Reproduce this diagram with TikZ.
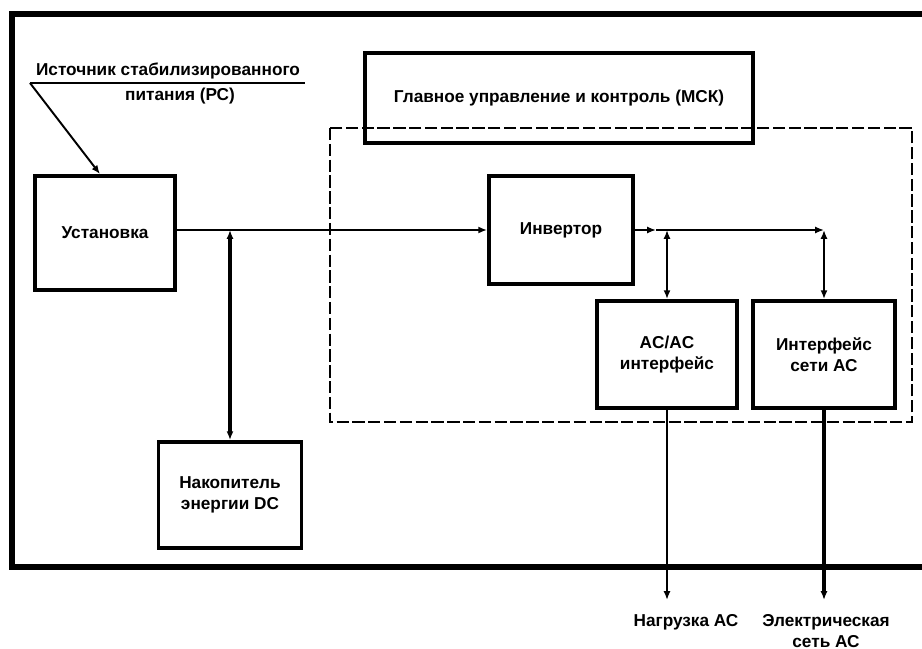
\documentclass[tikz,border=0pt]{standalone}
\usepackage{fontspec}
\setmainfont{Liberation Sans}
\usetikzlibrary{positioning,arrows.meta,calc}

\begin{document}
\begin{tikzpicture}[x=0.2mm,y=-0.2mm,>={Latex[length=5pt,width=4pt]},
  blk/.style={draw,line width=2.2pt,align=center,inner sep=0pt,
    font=\bfseries\fontsize{9.8}{12}\selectfont},
  lbl/.style={align=center,inner sep=1pt,font=\bfseries\fontsize{9.8}{12}\selectfont},
  conn/.style={line width=1.1pt}]
  \useasboundingbox (0,0) rectangle (922,649);
  % outer frame, open past the right edge
  \draw[line width=3pt] (930,14) -- (12,14) -- (12,567) -- (930,567);
  % MCK zone
  \draw[line width=1.2pt,dash pattern=on 7pt off 2pt] (330,128) rectangle (912,422);
  \node[blk,minimum width=77.6mm,minimum height=18mm] (mck) at (559,98) {Главное управление и контроль (МСК)};
  % blocks
  \node[blk,minimum width=28mm,minimum height=22.8mm] (inst) at (105,233) {Установка};
  \node[blk,minimum width=28.8mm,minimum height=21.6mm] (inv) at (561,230) {Инвертор};
  \node[blk,minimum width=28mm,minimum height=21.4mm] (acac) at (667,354.5) {AC/AC\\интерфейс};
  \node[blk,minimum width=28.4mm,minimum height=21.4mm] (grid) at (824,354.5) {Интерфейс\\сети АС};
  \node[blk,minimum width=28.6mm,minimum height=21.2mm] (store) at (230,495) {Накопитель\\энергии DC};
  % source label
  \node[lbl,anchor=south] (pctop) at (168,81) {Источник стабилизированного};
  \node[lbl,anchor=north] (pcbot) at (180,86) {питания (РС)};
  \coordinate (pcl) at (30,83);
  \coordinate (pcr) at (305,83);
  \draw[conn] (pcl) -- (pcr);
  \draw[conn,->] (pcl) -- ($(inst.north)+(-5,0)$);
  % DC bus
  \coordinate (jd) at (inst.east |- inv.west);
  \coordinate (js) at (store.north |- inv.west);
  \draw[conn,->] (jd) -- (inv.west);
  \draw[line width=1.8pt,<->] (js) -- (store.north);
  % AC side
  \coordinate (ja) at (656,230);
  \coordinate (j1) at (acac.north |- inv.east);
  \coordinate (j2) at (grid.north |- inv.east);
  \draw[conn,->] (inv.east) -- (ja);
  \draw[conn] (ja) -- (j1);
  \draw[conn,->] (j1) -- (j2);
  \draw[conn,<->] (j1) -- (acac.north);
  \draw[line width=1.6pt,<->] (j2) -- (grid.north);
  % outputs
  \coordinate (load) at (acac.south |- 0,600);
  \coordinate (net) at (grid.south |- 0,600);
  \draw[line width=1.4pt,->] (acac.south) -- (load);
  \draw[line width=2pt,->] (grid.south) -- (net);
  \node[lbl,anchor=north] (loadlbl) at (686,612) {Нагрузка АС};
  \node[lbl,anchor=north] (netlbl) at (826,612) {Электрическая\\сеть АС};
\end{tikzpicture}
\end{document}
